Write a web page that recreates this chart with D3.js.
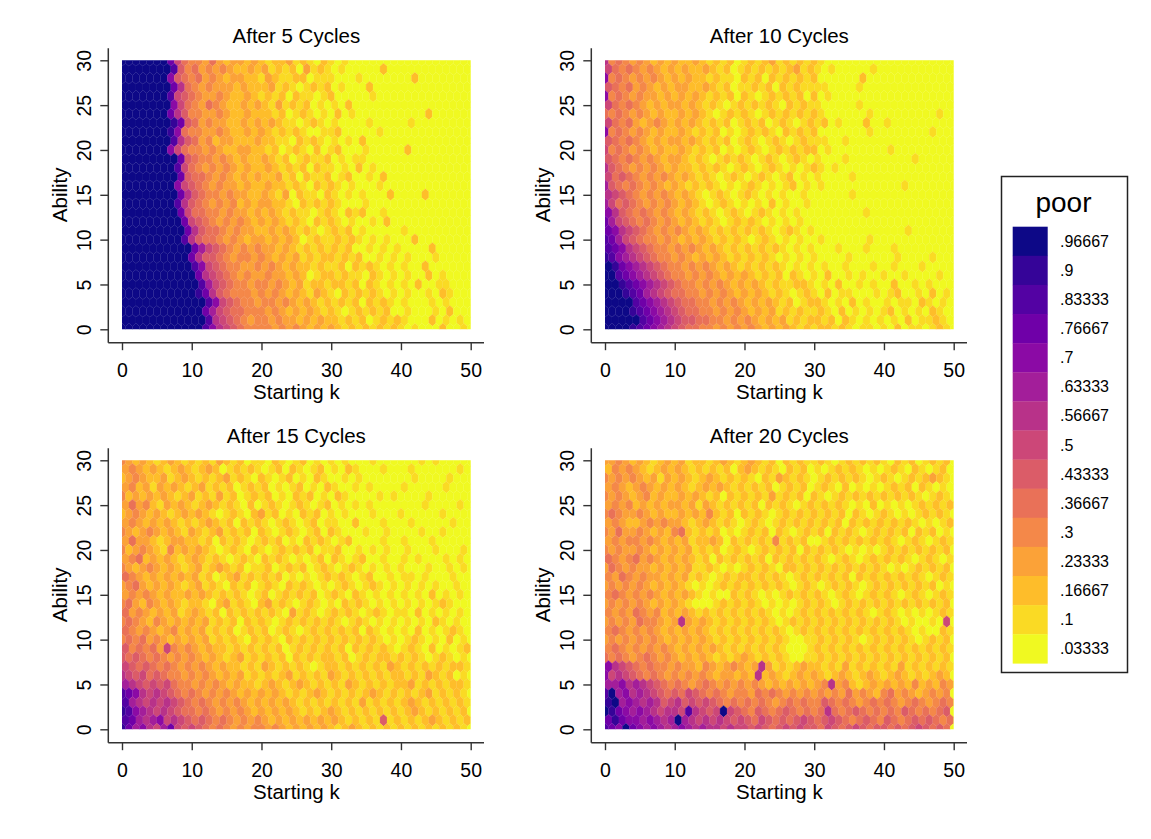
<!DOCTYPE html>
<html><head><meta charset="utf-8">
<script src="https://cdn.jsdelivr.net/npm/d3@7"></script>
<style>
body{margin:0;background:#fff}
svg{display:block}
text{font-family:Arial,"Liberation Sans",sans-serif;fill:#000}
</style>
</head><body>
<svg id="chart" width="1151" height="839"></svg>
<script>
// ---------- data ----------
const panelTitles = ["After 5 Cycles", "After 10 Cycles", "After 15 Cycles", "After 20 Cycles"];
const xTicks = [0, 10, 20, 30, 40, 50];
const yTicks = [0, 5, 10, 15, 20, 25, 30];
const xTitle = "Starting k";
const yTitle = "Ability";
const legendTitle = "poor";
// legend bins, top (darkest) to bottom (lightest)
const legendLabels = [".96667", ".9", ".83333", ".76667", ".7", ".63333", ".56667", ".5",
                      ".43333", ".36667", ".3", ".23333", ".16667", ".1", ".03333"];
// hexagon bins: each char = bin index (0 = .03333 ... e = .96667)
// rows run from Ability 30 (top) down to Ability 0; columns Starting k = 0..50
const grid5 = [
"eeeeeeeb75 4435323323 2122312102 1010000000 0000000000 0",
"eeeeeeec64 5343432232 3121203121 0100000200 0000000000 0",
"eeeeeeea65 4534323322 1321122011 1000100000 0020000000 0",
"eeeeeeeb85 4343332322 2312101212 0100020000 0000000000 0",
"eeeeeeec76 5433432232 1212021101 2000001000 0000000000 0",
"eeeeeeea75 4354322323 2131212010 1020000000 0000000000 0",
"eeeeeeeb86 4433432232 2212012101 0201000000 0000200000 0",
"eeeeeeedb6 5343322323 2321101210 1000010000 0100000000 0",
"eeeeeeeda5 4433432232 3212121001 1200000100 0000000000 0",
"eeeeeeec86 5342332223 2211021210 1010200000 0000000000 0",
"eeeeeeea75 4434322332 2120121020 1200010000 0200000000 0",
"eeeeeeeeb6 5443432322 3212012112 0101100000 0000000000 0",
"eeeeeeeec7 5434343232 2321212021 1010201000 0000000000 0",
"eeeeeeeeb6 5543432323 2231202112 0120010200 0000000000 0",
"eeeeeeeea7 6543433232 2322121021 2101000100 0000000000 0",
"eeeeeeeeb8 6544343322 3213021102 1010100020 0002000000 0",
"eeeeeeeec8 6543434232 3322102121 2100010000 0000000000 0",
"eeeeeeeeb7 5544343323 2321211012 1021200100 0000000000 0",
"eeeeeeeeeb 7654343432 3232121021 2101001020 0000000000 0",
"eeeeeeeeeb 8655434332 2323212101 2120100000 1000000000 0",
"eeeeeeeeec 8655434323 3232320121 1212101010 0020000000 0",
"eeeeeeeeee b976543434 3323212121 2120010101 0000200000 0",
"eeeeeeeeee b866543443 4323231212 2121200101 0100010000 0",
"eeeeeeeeee ca76544334 3432322121 1202121010 1002000000 0",
"eeeeeeeeee eb87654343 3433232012 2121102101 0100201000 0",
"eeeeeeeeee ec97654434 4343231221 2212021010 1020011000 0",
"eeeeeeeeee edb8654443 4343232132 1021212101 0100102100 0",
"eeeeeeeeee eeca765443 4434323212 1212021210 1000101000 0",
"eeeeeeeeee eeb9765544 4343232321 2101212120 0100010200 0",
"eeeeeeeeee eec8765434 4343323232 2121201212 1000201010 0",
"eeeeeeeeee eeca876544 4434343232 3212121212 1010002001 0"
];
const grid10 = [
"8454343232 3223212120 1212312121 2100000000 0000000000 0",
"7545434323 2322321201 2121212312 1010000010 0000000000 0",
"a454343432 3232212110 2120212121 2000000200 0000000000 0",
"6545343232 3322321201 1212021211 1100001000 0000000000 0",
"a454343323 2323212120 2101212120 2010000000 0000000000 0",
"7545432323 3232121012 1212102121 1000001000 0000000000 0",
"5454343232 2323210121 2101212121 2100000010 0000000010 0",
"7545323432 3232121201 2120121012 1201000200 1000000000 0",
"a454343232 2321212010 1212102121 2000000010 0000000100 0",
"6545432323 3232121201 2101210121 1100100000 0000000000 0",
"7454343232 2321212010 1210121212 2010000000 0100000000 0",
"6545434323 3212101212 1012101210 1000100000 0000100000 0",
"8654343432 3221212101 2101210101 2101000000 0000000000 0",
"7565434343 2321210121 0121012010 1000010000 0000000000 0",
"9654543432 3212121010 1210101201 0100000000 0001000000 0",
"8765434343 2321012101 2101010010 0000010000 0000000000 0",
"9756543434 3232101210 1010201001 0000000000 0000000000 0",
"a865454343 2321210121 0121010100 0000000100 0000000000 0",
"b976545434 3232121012 1210101010 0000000000 0000000000 0",
"ba87654343 4323212121 2121012101 0000000000 0001000000 0",
"cb97654434 3232321212 1012101010 0100000010 0000000000 0",
"cba8765443 4343232121 2121210101 0001000100 0100000000 0",
"dca9876544 3432323212 1212101010 1000010000 0010000100 0",
"edba987654 4343432321 2121210101 0100100010 0100010000 0",
"eecba98765 4434343232 3212120210 1020010100 1001000010 0",
"eedcba9876 5443434323 2321211221 0102001010 0200101000 0",
"eeedcb9876 5544343432 3232121012 1020110001 0120010201 0",
"eeeecba987 6554434343 2323212012 2101020100 1011021010 0",
"eeeedcba98 7655443434 3232312121 1210201010 1201010210 0",
"eeeeecba98 7665544343 4323231212 2120210101 0102011210 0",
"eeeedcba98 7655443434 3432323212 1221210110 1020110121 0"
];
const grid15 = [
"4323212321 2121321201 1021012010 1010001000 0001010000 0",
"3432321232 1232012121 0120210120 1021000100 0100000010 0",
"2343223123 2121231210 2101201021 0010100000 0010000100 0",
"3423132321 2312120121 2010120102 1001010000 1000001000 0",
"4232323212 3121312012 1201021201 0210000101 0000100000 0",
"3534213232 1232121020 1210121012 0101010000 0001000010 0",
"2343232123 2321012102 3120102120 1010001000 1000001000 0",
"3432323212 1232120212 1012101201 1002000100 0100000100 0",
"4323432321 3212312120 2101210120 2100010010 0001001000 0",
"3533212332 2120212101 2120102121 0120000100 1000100000 0",
"4234321423 2321012102 1012121201 1200101010 0100010001 0",
"3452323212 3212101210 2121010120 2101200100 1010001010 0",
"4323432321 2312321201 1201212012 1012101010 1000100101 0",
"5432323232 3120123121 2120101012 1210120010 1101000100 0",
"3453232321 2312102120 1210212101 0121012101 0101010010 0",
"3434323223 2321212101 2012121201 2102101010 1010201010 0",
"4532432321 2210231210 2312101210 1021210101 0101012100 0",
"5343232312 3212021212 1210312101 2121012101 1020101010 0",
"4543243232 3231212021 2101212121 2101210101 0101021010 0",
"5434323423 2312120121 2012101212 1212021010 1020101210 0",
"4545343232 3231212102 1210212121 2121212101 0121010201 0",
"6454537434 3232212121 2120121212 1202121210 1210201012 0",
"6565454343 4323212312 1212021212 2120121221 2121012101 0",
"7656545434 3432322121 3212121012 2121212132 1212121221 0",
"8767565443 4343232312 1212312121 3212121212 2121321201 0",
"9876767544 3434323221 2321232121 2132121212 2312121221 0",
"cba8787654 5434343232 3232121232 1212123212 1212312121 0",
"c987878765 4543434323 2323212121 2121312121 2321212121 0",
"dca9878765 5454343432 3232321212 3212121212 1232121212 0",
"cb989a7876 5654543434 3232323232 3212121612 1212321212 0",
"db9a879b76 7654543434 4343232323 2123212121 2121212121 0"
];
const grid20 = [
"3343232123 2312212321 2321202121 1210121212 1021201212 0",
"2434321232 3212121202 3212102120 1012121010 1210210120 0",
"4343432313 2321232121 2102132121 0121212101 2101212321 0",
"3432343232 3212323212 1212012120 1210201010 1212021010 0",
"4343234232 2323212021 2121312120 2101212121 2121210121 0",
"3434232323 3231321212 1202121012 1212101020 1010121212 0",
"4543343232 2323242120 2121012121 2121202101 2101012121 0",
"3432234343 3212321210 1210121212 1212021212 1212101012 0",
"4353343232 4521212010 1212021012 1202121012 1212021201 0",
"3434434323 2312232021 2121412120 0121212121 2101210121 0",
"4343343232 3231212012 1012121202 1212101010 1212121212 0",
"5434534323 2321202121 2120212121 2101210121 2121012101 0",
"3543433232 3231121010 1212102212 1212121212 1010121212 0",
"4354343323 2312101212 2121210121 2121202121 2121210121 0",
"3434343232 3210101212 1212121012 1012121012 1212121201 0",
"4543434323 2321010021 2101012121 2101210121 2101210121 0",
"3434343232 3210001212 1210101012 1210121212 1212121212 0",
"4343543423 2321212121 2121010121 2121212101 2101010121 0",
"3434354432 3832321212 1212101212 1212121212 1210100107 0",
"4543434323 2323212121 2121210121 2121212121 2121010021 0",
"3434343432 3232321212 1212121001 1212121012 1212101212 0",
"4543434343 2323232121 2121210001 2121212121 2121212121 0",
"5454345434 3232321212 3212121001 1212121212 1212121212 0",
"a876545443 4332432343 2383121232 2121312121 2131212121 0",
"a787654543 4343432332 3282321232 3212321232 1232121232 0",
"99a8987654 5434543434 3432323232 3483421232 3232423243 0",
"ce9a898765 6576545434 4354543434 3434353432 4534323434 0",
"de9a989867 8676765454 5454345454 4654543454 5434543454 0",
"edba9a9878 87c8767e76 5465456545 4585456545 4546545456 0",
"bdbaa9a989 e987878767 6576565676 5676545654 6545656545 0",
"cbaeba9a98 9a98988787 7676567676 6576567656 6565676565 0"
];
const grids = [grid5, grid10, grid15, grid20];

// ---------- layout ----------
const svg = d3.select("#chart");
const W = 1151, H = 839;
svg.append("rect").attr("width", W).attr("height", H).attr("fill", "#fff");

const colors = d3.quantize(t => d3.interpolatePlasma(1 - t), legendLabels.length); // index 0 lightest
const color = d3.scaleOrdinal().domain(d3.range(legendLabels.length)).range(colors);

const base = {x0: 122, x1: 470.7, y0: 329.3, y1: 60.3, axX: 108.3, axY: 342.7, axYTop: 48.3, axXRight: 484};
const offsets = [[0, 0], [483, 0], [0, 400], [483, 400]];
const axisColor = "#333";

function parseGrid(rows) {
  return rows.map(r => r.replace(/ /g, "").split("").map(c => parseInt(c, 16)));
}

offsets.forEach(([dx, dy], p) => {
  const x = d3.scaleLinear().domain([0, 50]).range([base.x0 + dx, base.x1 + dx]);
  const y = d3.scaleLinear().domain([0, 30]).range([base.y0 + dy, base.y1 + dy]);
  const g = svg.append("g");

  const clipId = "clip" + p;
  svg.append("clipPath").attr("id", clipId).append("rect")
    .attr("x", x(0)).attr("y", y(30)).attr("width", x(50) - x(0)).attr("height", y(0) - y(30));

  const grid = parseGrid(grids[p]);
  const cells = [];
  grid.forEach((row, r) => {
    const a = 30 - r;
    row.forEach((v, i) => {
      const cx = i + (a % 2 === 1 ? 0.5 : 0);
      cells.push({k: cx, a: a, v: v});
    });
  });
  const hexPath = d => {
    const pts = [
      [d.k, d.a + 2 / 3], [d.k + 0.5, d.a + 1 / 3], [d.k + 0.5, d.a - 1 / 3],
      [d.k, d.a - 2 / 3], [d.k - 0.5, d.a - 1 / 3], [d.k - 0.5, d.a + 1 / 3]
    ];
    return "M" + pts.map(q => x(q[0]).toFixed(2) + "," + y(q[1]).toFixed(2)).join("L") + "Z";
  };
  g.append("g").attr("clip-path", `url(#${clipId})`)
    .selectAll("path").data(cells).join("path")
    .attr("d", hexPath)
    .attr("fill", d => color(d.v))
    .attr("stroke", d => color(d.v))
    .attr("stroke-width", 0.25);

  // axis lines
  g.append("line").attr("x1", base.axX + dx).attr("x2", base.axX + dx)
    .attr("y1", base.axYTop + dy).attr("y2", base.axY + dy)
    .attr("stroke", axisColor).attr("stroke-width", 1.5);
  g.append("line").attr("x1", base.axX + dx).attr("x2", base.axXRight + dx)
    .attr("y1", base.axY + dy).attr("y2", base.axY + dy)
    .attr("stroke", axisColor).attr("stroke-width", 1.5);

  // y axis
  const ya = g.append("g").attr("transform", `translate(${base.axX + dx},0)`)
    .call(d3.axisLeft(y).tickValues(yTicks).tickSize(8).tickSizeOuter(0).tickFormat(d3.format("d")));
  ya.select(".domain").remove();
  ya.selectAll(".tick line").attr("stroke", axisColor).attr("stroke-width", 1.4);
  ya.selectAll(".tick text")
    .attr("transform", "rotate(-90)")
    .attr("x", 0).attr("y", -17.5).attr("dy", 0)
    .attr("text-anchor", "middle")
    .style("font-size", "19.5px").style("font-family", "Arial, 'Liberation Sans', sans-serif")
    .attr("fill", "#000");

  // x axis
  const xa = g.append("g").attr("transform", `translate(0,${base.axY + dy})`)
    .call(d3.axisBottom(x).tickValues(xTicks).tickSize(7.5).tickSizeOuter(0).tickFormat(d3.format("d")));
  xa.select(".domain").remove();
  xa.selectAll(".tick line").attr("stroke", axisColor).attr("stroke-width", 1.4);
  xa.selectAll(".tick text")
    .attr("y", 34).attr("dy", 0)
    .style("font-size", "19.5px").style("font-family", "Arial, 'Liberation Sans', sans-serif")
    .attr("fill", "#000");

  const cx = (x(0) + x(50)) / 2, cy = (y(0) + y(30)) / 2;
  g.append("text").attr("x", cx).attr("y", 398.5 + dy).attr("text-anchor", "middle")
    .style("font-size", "20.5px").text(xTitle);
  g.append("text").attr("transform", `translate(${66.5 + dx},${cy}) rotate(-90)`)
    .attr("text-anchor", "middle").style("font-size", "20.5px").text(yTitle);
  g.append("text").attr("x", cx).attr("y", 42.7 + dy).attr("text-anchor", "middle")
    .style("font-size", "20.5px").text(panelTitles[p]);
});

// ---------- legend ----------
const lg = svg.append("g");
lg.append("rect").attr("x", 1001.5).attr("y", 176.5).attr("width", 126).attr("height", 496)
  .attr("fill", "#fff").attr("stroke", "#222").attr("stroke-width", 1.5);
lg.append("text").attr("x", 1063.5).attr("y", 212).attr("text-anchor", "middle")
  .style("font-size", "28px").text(legendTitle);
const ly = d3.scaleBand().domain(d3.range(legendLabels.length)).range([226.7, 663.3]).padding(0);
legendLabels.forEach((lab, i) => {
  const bin = legendLabels.length - 1 - i;
  lg.append("rect").attr("x", 1012.7).attr("y", ly(i)).attr("width", 35).attr("height", ly.bandwidth() + 0.3)
    .attr("fill", color(bin));
  lg.append("text").attr("x", 1060).attr("y", ly(i) + ly.bandwidth() / 2 + 5.5)
    .style("font-size", "16px").text(lab);
});
</script>
</body></html>
